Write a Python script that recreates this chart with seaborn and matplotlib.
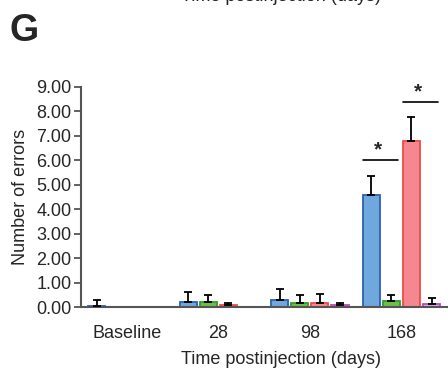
import pandas as pd
import matplotlib.pyplot as plt
import seaborn as sns
import matplotlib as mpl
mpl.use("agg")

# Values (means and upper error bars)
timepoints = ["Baseline", "28", "98", "168"]
groups = ["Group 1", "Group 2", "Group 3", "Group 4"]
means = {
    "Group 1": [0.05, 0.22, 0.28, 4.58],
    "Group 2": [None, 0.20, 0.15, 0.23],
    "Group 3": [None, 0.07, 0.15, 6.78],
    "Group 4": [None, None, 0.07, 0.12],
}
errs = {
    "Group 1": [0.25, 0.40, 0.48, 0.78],
    "Group 2": [0.0, 0.28, 0.33, 0.27],
    "Group 3": [0.0, 0.10, 0.37, 1.00],
    "Group 4": [0.0, 0.0, 0.10, 0.25],
}
fills = ["#6fa8dc", "#6cbf4a", "#f4878f", "#e3a3e3"]
edges = ["#2f5fb0", "#2e9e2e", "#f04a4a", "#b050b0"]
ytick_vals = [0, 1, 2, 3, 4, 5, 6, 7, 8, 9]

rows = []
for g in groups:
    for t, v in zip(timepoints, means[g]):
        rows.append({"time": t, "group": g, "value": v})
df = pd.DataFrame(rows)

sns.set_style("white")
mpl.rcParams["font.family"] = ["Liberation Sans", "DejaVu Sans"]

fig = plt.figure(figsize=(4.48, 3.70), dpi=100)
ax = fig.add_axes([0.181, 0.170, 0.817, 0.595])

sns.barplot(data=df, x="time", y="value", hue="group", order=timepoints,
            hue_order=groups, palette=fills, saturation=1, errorbar=None,
            width=0.88, gap=0.15, linewidth=1.3, legend=False, ax=ax)

centers = {}
for gi, (g, cont) in enumerate(zip(groups, ax.containers)):
    for bar in cont:
        h = bar.get_height()
        if pd.isna(h):
            continue
        bar.set_edgecolor(edges[gi])
        cx = bar.get_x() + bar.get_width() / 2
        ti = int(round(cx))
        centers[(g, ti)] = (cx, bar.get_width())
        e = errs[g][ti]
        if e > 0:
            ax.errorbar(cx, h, yerr=[[0], [e]], fmt="none", ecolor="black",
                        elinewidth=1.3, capsize=3, capthick=1.3, zorder=3)

# significance markers at 168 days
sig = [("Group 1", "Group 2", 6.0), ("Group 3", "Group 4", 8.4)]
for g1, g2, y in sig:
    x1, w = centers[(g1, 3)]
    x2, _ = centers[(g2, 3)]
    xa, xb = x1 - 0.5 * w, x2 + 0.4 * w
    ax.plot([xa, xb], [y, y], color="black", lw=1.2, clip_on=False)
    ax.text((xa + xb) / 2 - 0.03, y + 0.02, "*", ha="center", va="bottom",
            fontsize=15, fontweight="bold")

ax.set_xlim(-0.5, 3.5)
ax.set_ylim(0, 9)
ax.set_yticks(ytick_vals)
ax.set_yticklabels([f"{v:.2f}" for v in ytick_vals], fontsize=13)
ax.tick_params(axis="y", length=5, width=1.3, color="#555555", pad=2, left=True)
ax.tick_params(axis="x", length=0, labelsize=13, pad=13)
for s in ["top", "right"]:
    ax.spines[s].set_visible(False)
for s in ["left", "bottom"]:
    ax.spines[s].set_color("#555555")
    ax.spines[s].set_linewidth(1.5)

ax.set_xlabel("Time postinjection (days)", fontsize=13)
ax.xaxis.set_label_coords(0.546, -0.198)
ax.set_ylabel("Number of errors", fontsize=13, labelpad=5)

fig.text(0.022, 0.965, "G", fontsize=27, fontweight="bold", va="top")
fig.text(0.627, 0.998, "Time postinjection (days)", fontsize=13,
         ha="center", va="baseline", color="#222222")

fig.savefig("out.png", dpi=100)
